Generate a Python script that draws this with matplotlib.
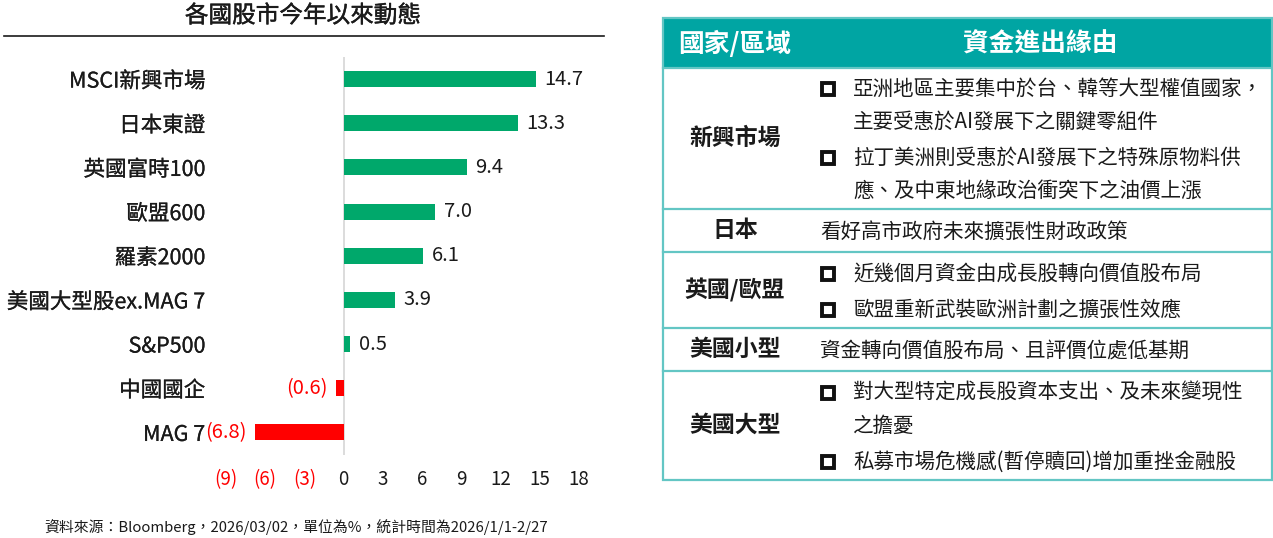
import matplotlib
matplotlib.use('Agg')
import matplotlib.pyplot as plt
from matplotlib.patches import Rectangle
import matplotlib.patheffects as pe

plt.rcParams['font.family'] = ['Noto Sans CJK TC', 'DejaVu Sans']

# ---------------- data ----------------
title = '各國股市今年以來動態'
categories = ['MSCI新興市場', '日本東證', '英國富時100', '歐盟600', '羅素2000',
              '美國大型股ex.MAG 7', 'S&P500', '中國國企', 'MAG 7']
values = [14.7, 13.3, 9.4, 7.0, 6.1, 3.9, 0.5, -0.6, -6.8]
xticks = [-9, -6, -3, 0, 3, 6, 9, 12, 15, 18]
footnote = '資料來源：Bloomberg，2026/03/02，單位為%，統計時間為2026/1/1-2/27'

table_headers = ['國家/區域', '資金進出緣由']
regions = ['新興市場', '日本', '英國/歐盟', '美國小型', '美國大型']
reasons = [
    [['亞洲地區主要集中於台、韓等大型權值國家，', '主要受惠於AI發展下之關鍵零組件'],
     ['拉丁美洲則受惠於AI發展下之特殊原物料供', '應、及中東地緣政治衝突下之油價上漲']],
    [['看好高市政府未來擴張性財政政策']],
    [['近幾個月資金由成長股轉向價值股布局'], ['歐盟重新武裝歐洲計劃之擴張性效應']],
    [['資金轉向價值股布局、且評價位處低基期']],
    [['對大型特定成長股資本支出、及未來變現性', '之擔憂'], ['私募市場危機感(暫停贖回)增加重挫金融股']],
]
bulleted = [True, False, True, False, True]

# ---------------- style ----------------
GREEN = '#00A86B'
RED = '#FF0000'
TEAL = '#00A5A3'
BORDER = '#63C6C4'
TXT = '#1A1A1A'
thick = [pe.withStroke(linewidth=0.15, foreground=TXT)]

W, H = 1273, 538
fig = plt.figure(figsize=(W / 100, H / 100), dpi=100)


def fx(x):
    return x / W


def fy(y):
    return 1 - y / H


def fmt(v):
    return f'({abs(v):.1f})' if v < 0 else f'{v:.1f}'


def tfmt(t):
    return f'({abs(t)})' if t < 0 else f'{t}'


# ---------------- bar chart ----------------
ax = fig.add_axes([fx(226), fy(454.5), (579 - 226) / W, (454.5 - 57) / H])
idx = list(range(len(categories)))
colors = [GREEN if v >= 0 else RED for v in values]
ax.barh(idx, values, height=0.36, color=colors, zorder=2)
ax.axvline(0, color='#D9D9D9', lw=1.3, zorder=1)
ax.set_xlim(xticks[0], xticks[-1])
ax.set_ylim(len(categories) - 0.5, -0.5)
ax.set_xticks(xticks)
ax.set_xticklabels([tfmt(t) for t in xticks])
for lbl, t in zip(ax.get_xticklabels(), xticks):
    lbl.set_color(RED if t < 0 else TXT)
ax.tick_params(axis='x', length=0, pad=10.5, labelsize=13.5)
ax.set_yticks(idx)
ax.set_yticklabels(categories, fontsize=15.5, color=TXT)
for lbl in ax.get_yticklabels():
    lbl.set_path_effects(thick)
ax.tick_params(axis='y', length=0, pad=15)
for s in ax.spines.values():
    s.set_visible(False)
ax.patch.set_alpha(0)

for i, v in enumerate(values):
    if v >= 0:
        ax.annotate(fmt(v), xy=(v, i), xytext=(6, 0), textcoords='offset points',
                    ha='left', va='center', fontsize=14.5, color=TXT)
    else:
        ax.annotate(fmt(v), xy=(v, i), xytext=(-6, 0), textcoords='offset points',
                    ha='right', va='center', fontsize=14.5, color=RED)

# ---------------- overlay (title, footnote, table) ----------------
tax = fig.add_axes([0, 0, 1, 1])
tax.set_xlim(0, W)
tax.set_ylim(H, 0)
tax.axis('off')

tax.text(303, 16, title, ha='center', va='center', fontsize=17, color=TXT,
         path_effects=[pe.withStroke(linewidth=0.3, foreground=TXT)])
tax.plot([4, 604], [36, 36], color=TXT, lw=1.2)
tax.text(44, 527, footnote, ha='left', va='center', fontsize=10.7, color=TXT)

# table geometry
tx0, tx1 = 663, 1272
ty0, hy = 18, 68
row_bounds = [68, 209, 252, 328, 371, 480]
col1_c = 735
col2_c = 1040

tax.add_patch(Rectangle((tx0, ty0), tx1 - tx0, hy - ty0, fc=TEAL, ec='none', zorder=1))
tax.text(col1_c, 44, table_headers[0], ha='center', va='center', fontsize=18.5,
         weight='bold', color='white', zorder=3)
tax.text(col2_c, 44, table_headers[1], ha='center', va='center', fontsize=18.5,
         weight='bold', color='white', zorder=3)
tax.add_patch(Rectangle((tx0, ty0), tx1 - tx0, row_bounds[-1] - ty0, fill=False,
                        ec=BORDER, lw=1.6, zorder=2))
for yb in row_bounds[:-1]:
    tax.plot([tx0, tx1], [yb, yb], color=BORDER, lw=1.6, zorder=2)

for r, (region, items, bul) in enumerate(zip(regions, reasons, bulleted)):
    top, bot = row_bounds[r], row_bounds[r + 1]
    rc = (top + bot) / 2
    tax.text(col1_c, rc, region, ha='center', va='center', fontsize=16.5,
             weight='bold', color=TXT)
    # line offsets
    offs = []
    o = 0
    for j, item in enumerate(items):
        for k, _ in enumerate(item):
            if offs:
                o += 33 if k > 0 else 36
            offs.append(o)
    shift = rc + 1.5 - (offs[0] + offs[-1]) / 2
    n = 0
    for j, item in enumerate(items):
        for k, line in enumerate(item):
            yl = offs[n] + shift
            n += 1
            if bul:
                if k == 0:
                    tax.add_patch(Rectangle((822, yl - 6), 12, 12, fill=False,
                                            ec='#111111', lw=2.8, zorder=3))
                tax.text(853, yl, line, ha='left', va='center', fontsize=14.8, color=TXT)
            else:
                tax.text(820, yl, line, ha='left', va='center', fontsize=14.8, color=TXT)

fig.savefig('out.png', dpi=100)
